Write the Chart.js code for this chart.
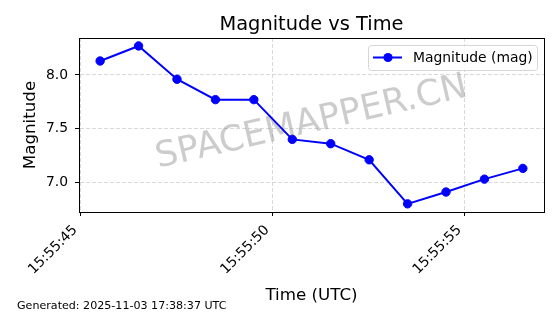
<!DOCTYPE html>
<html>
<head>
<meta charset="utf-8">
<script src="https://cdn.jsdelivr.net/npm/chart.js@4"></script>
<style>
  html, body { margin: 0; padding: 0; background: #fff; }
  #wrap { width: 560px; height: 314px; position: relative; }
</style>
</head>
<body>
<div id="wrap"><canvas id="magChart"></canvas></div>
<script>
// Observation times (UTC) and magnitudes
const times = ["15:55:45.52", "15:55:46.52", "15:55:47.52", "15:55:48.52", "15:55:49.52", "15:55:50.52",
               "15:55:51.52", "15:55:52.52", "15:55:53.52", "15:55:54.52", "15:55:55.52", "15:55:56.52"];
const magnitudes = [8.13, 8.27, 7.96, 7.77, 7.77, 7.40, 7.36, 7.21, 6.80, 6.91, 7.03, 7.13];

// Axis ticks
const xTicks = [45, 50, 55];          // seconds past 15:55:00
const yTicks = [7.0, 7.5, 8.0];

const FONT = "'DejaVu Sans', sans-serif";

// seconds past 15:55:00
function toSec(t) {
  const p = t.split(":");
  return (+p[0] - 15) * 3600 + (+p[1] - 55) * 60 + parseFloat(p[2]);
}
const points = times.map((t, i) => ({ x: toSec(t), y: magnitudes[i] }));

// frame, title, watermark, legend, footer
const extras = {
  id: "extras",
  beforeDatasetsDraw(chart) {
    const { ctx, chartArea: a } = chart;
    ctx.save();
    ctx.translate((a.left + a.right) / 2, (a.top + a.bottom) / 2 - 2);
    ctx.rotate(-13 * Math.PI / 180);
    ctx.font = "35.5px " + FONT;
    ctx.fillStyle = "rgba(128,128,128,0.4)";
    ctx.textAlign = "center";
    ctx.textBaseline = "middle";
    ctx.fillText("SPACEMAPPER.CN", 0, 0);
    ctx.restore();
  },
  afterDraw(chart) {
    const { ctx, chartArea: a } = chart;
    ctx.save();
    // axes frame
    ctx.strokeStyle = "#000";
    ctx.lineWidth = 1;
    ctx.strokeRect(a.left + 0.5, a.top + 0.5, a.right - a.left, a.bottom - a.top);

    // title
    ctx.fillStyle = "#000";
    ctx.font = "19.4px " + FONT;
    ctx.textAlign = "center";
    ctx.textBaseline = "alphabetic";
    ctx.fillText("Magnitude vs Time", (a.left + a.right) / 2, 29.5);

    // legend
    const bx = 368.5, by = 45.5, bw = 169, bh = 25;
    ctx.beginPath();
    ctx.roundRect(bx, by, bw, bh, 3);
    ctx.fillStyle = "rgba(255,255,255,0.8)";
    ctx.fill();
    ctx.strokeStyle = "#d6d6d6";
    ctx.lineWidth = 1;
    ctx.stroke();
    ctx.strokeStyle = "#0000ff";
    ctx.lineWidth = 2;
    ctx.beginPath();
    ctx.moveTo(373, 57.5);
    ctx.lineTo(402, 57.5);
    ctx.stroke();
    ctx.beginPath();
    ctx.arc(388, 57.5, 4.6, 0, Math.PI * 2);
    ctx.fillStyle = "#0000ff";
    ctx.fill();
    ctx.fillStyle = "#000";
    ctx.font = "13.9px " + FONT;
    ctx.textAlign = "left";
    ctx.textBaseline = "middle";
    ctx.fillText("Magnitude (mag)", 413, 58);

    // footer
    ctx.font = "11.1px " + FONT;
    ctx.textBaseline = "alphabetic";
    ctx.fillText("Generated: 2025-11-03 17:38:37 UTC", 17, 309);
    ctx.restore();
  }
};

const gridStyle = {
  color: "#cfcfcf",
  lineWidth: 0.8,
  tickColor: "#000",
  tickLength: 4,
  tickWidth: 1,
  tickBorderDash: []
};

new Chart(document.getElementById("magChart"), {
  type: "line",
  data: {
    datasets: [{
      label: "Magnitude (mag)",
      data: points,
      borderColor: "#0000ff",
      backgroundColor: "#0000ff",
      borderWidth: 2,
      pointRadius: 4.2,
      pointBorderWidth: 1,
      pointBackgroundColor: "#0000ff",
      pointBorderColor: "#0000ff",
      tension: 0
    }]
  },
  options: {
    responsive: true,
    maintainAspectRatio: false,
    animation: false,
    layout: { padding: { left: 0, right: 16, top: 38, bottom: 0 } },
    plugins: {
      legend: { display: false },
      title: { display: false },
      tooltip: { enabled: false }
    },
    scales: {
      x: {
        type: "linear",
        min: 44.97,
        max: 57.07,
        afterFit(s) { s.height = 102; },
        afterBuildTicks(s) { s.ticks = xTicks.map(v => ({ value: v })); },
        grid: gridStyle,
        border: { display: true, color: "#000", width: 1, dash: [4, 2] },
        ticks: {
          color: "#000",
          font: { family: FONT, size: 13.9 },
          minRotation: 45,
          maxRotation: 45,
          padding: 6,
          labelOffset: -5,
          autoSkip: false,
          callback: v => "15:55:" + String(v).padStart(2, "0")
        },
        title: {
          display: true,
          text: "Time (UTC)",
          color: "#000",
          font: { family: FONT, size: 16.7 },
          padding: { top: 0, bottom: 8 }
        }
      },
      y: {
        min: 6.724,
        max: 8.344,
        afterFit(s) { s.width = 79; },
        afterBuildTicks(s) { s.ticks = yTicks.map(v => ({ value: v })); },
        grid: gridStyle,
        border: { display: true, color: "#000", width: 1, dash: [4, 2] },
        ticks: {
          color: "#000",
          font: { family: FONT, size: 13.9 },
          padding: 7,
          callback: v => v.toFixed(1)
        },
        title: {
          display: true,
          text: "Magnitude",
          color: "#000",
          font: { family: FONT, size: 16.7 },
          padding: { top: 21, bottom: 0 }
        }
      }
    }
  },
  plugins: [extras]
});
</script>
</body>
</html>
